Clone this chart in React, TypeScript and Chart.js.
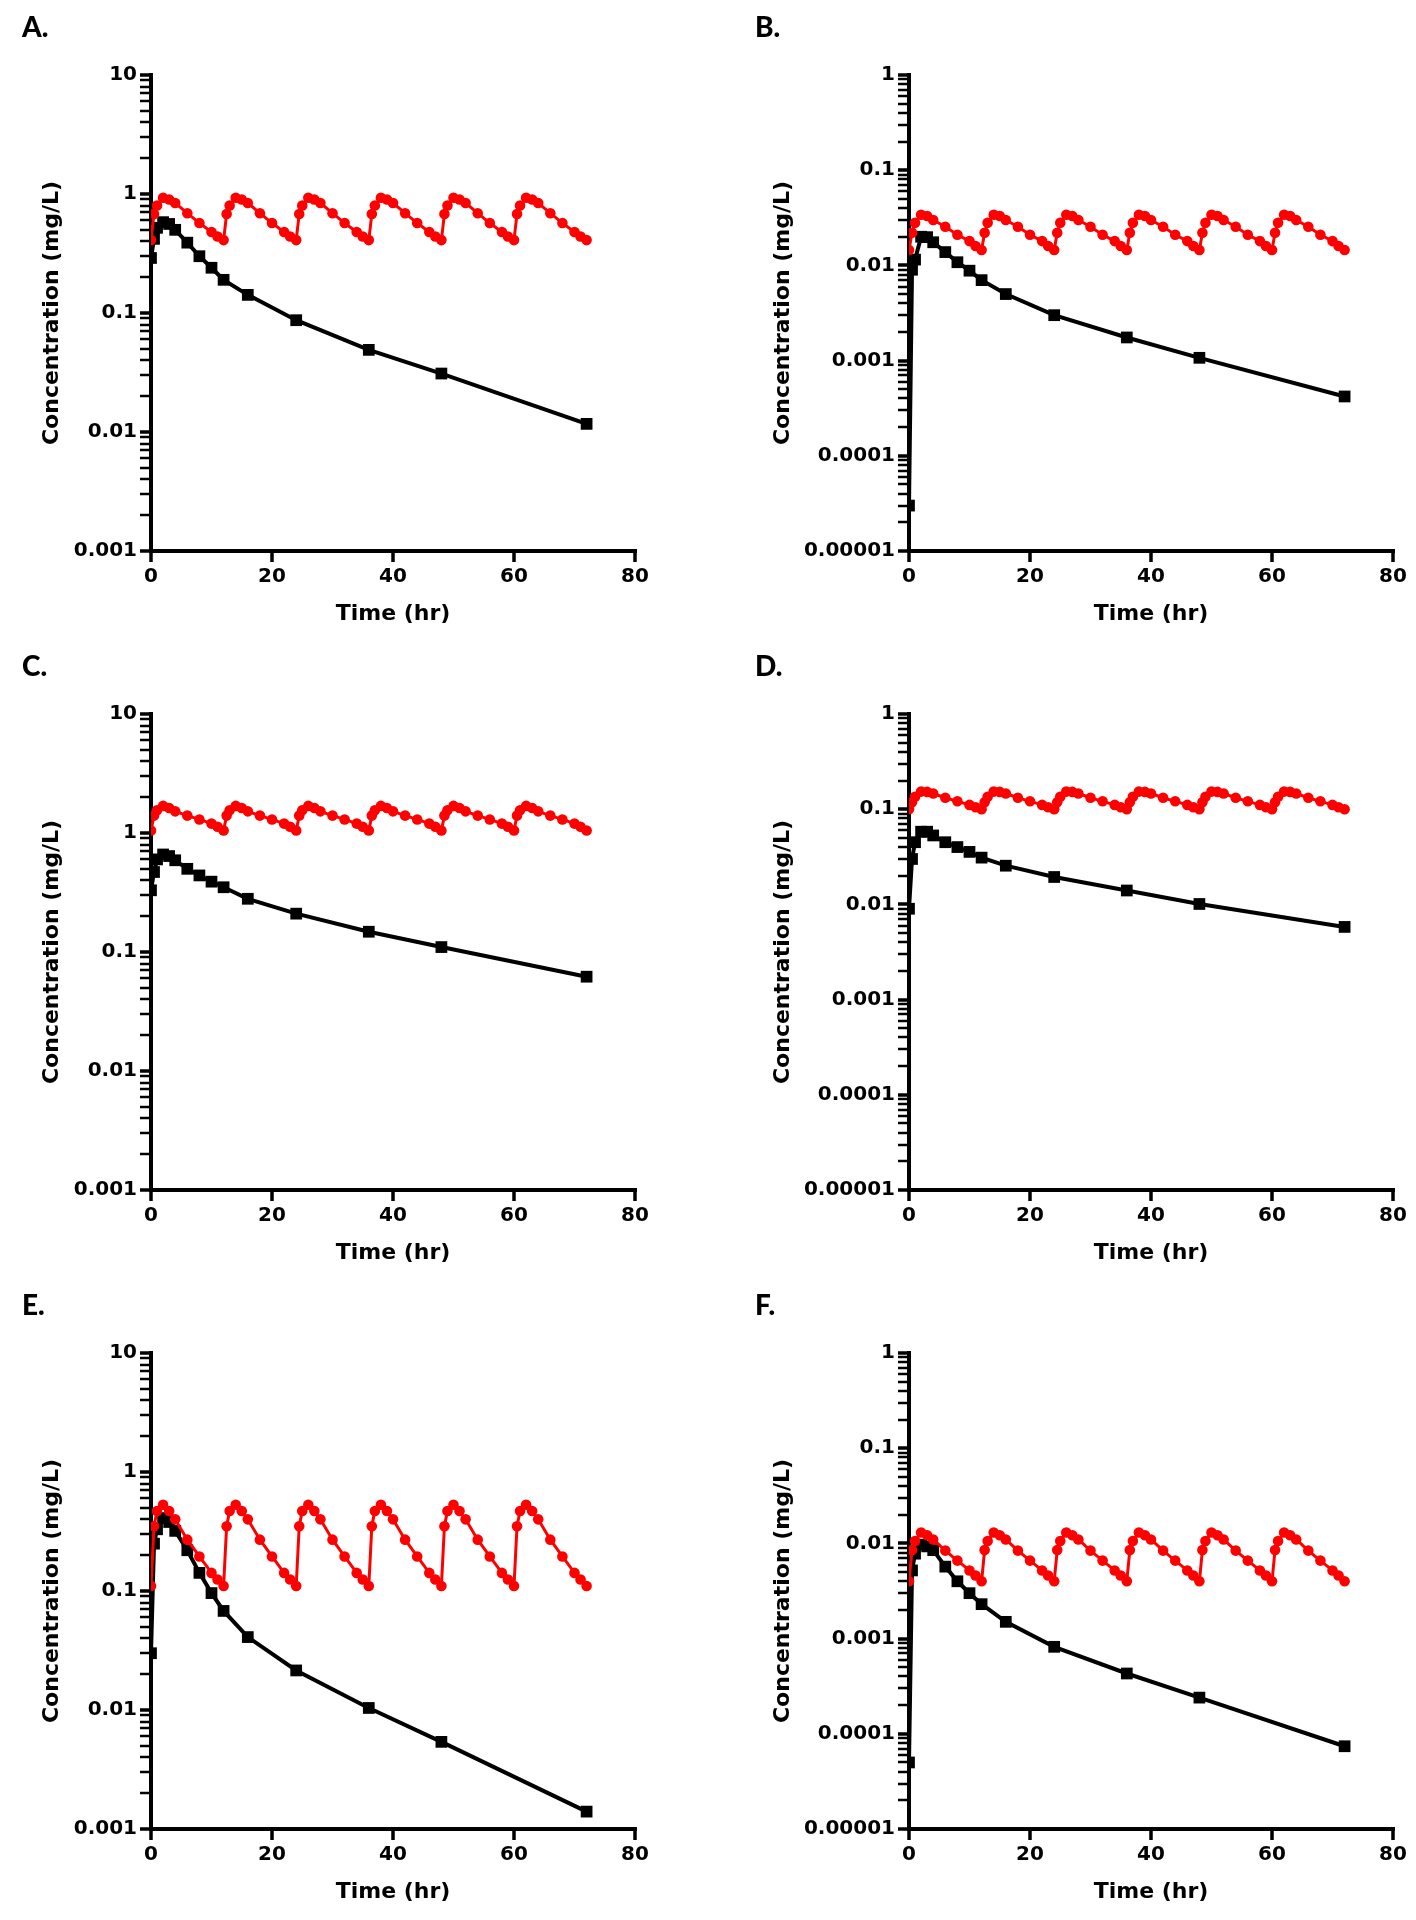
import React, { useEffect, useRef } from 'react';
import { Chart, registerables } from 'chart.js';

Chart.register(...registerables);

// ---------- data ----------
const redTime = [
  0, 0.5, 1, 2, 3, 4, 6, 8, 10, 11,
  12, 12.5, 13, 14, 15, 16, 18, 20, 22, 23,
  24, 24.5, 25, 26, 27, 28, 30, 32, 34, 35,
  36, 36.5, 37, 38, 39, 40, 42, 44, 46, 47,
  48, 48.5, 49, 50, 51, 52, 54, 56, 58, 59,
  60, 60.5, 61, 62, 63, 64, 66, 68, 70, 71,
  72,
];

const blackTime = [0, 0.5, 1, 2, 3, 4, 6, 8, 10, 12, 16, 24, 36, 48, 72];

const redA = [
  0.41, 0.68, 0.8, 0.93, 0.9, 0.84, 0.69, 0.57, 0.48, 0.44,
  0.41, 0.68, 0.8, 0.93, 0.9, 0.84, 0.69, 0.57, 0.48, 0.44,
  0.41, 0.68, 0.8, 0.93, 0.9, 0.84, 0.69, 0.57, 0.48, 0.44,
  0.41, 0.68, 0.8, 0.93, 0.9, 0.84, 0.69, 0.57, 0.48, 0.44,
  0.41, 0.68, 0.8, 0.93, 0.9, 0.84, 0.69, 0.57, 0.48, 0.44,
  0.41, 0.68, 0.8, 0.93, 0.9, 0.84, 0.69, 0.57, 0.48, 0.44,
  0.41,
];
const redB = [
  0.0145, 0.022, 0.028, 0.034, 0.033, 0.03, 0.0255, 0.021, 0.018, 0.016,
  0.0145, 0.022, 0.028, 0.034, 0.033, 0.03, 0.0255, 0.021, 0.018, 0.016,
  0.0145, 0.022, 0.028, 0.034, 0.033, 0.03, 0.0255, 0.021, 0.018, 0.016,
  0.0145, 0.022, 0.028, 0.034, 0.033, 0.03, 0.0255, 0.021, 0.018, 0.016,
  0.0145, 0.022, 0.028, 0.034, 0.033, 0.03, 0.0255, 0.021, 0.018, 0.016,
  0.0145, 0.022, 0.028, 0.034, 0.033, 0.03, 0.0255, 0.021, 0.018, 0.016,
  0.0145,
];
const redC = [
  1.05, 1.4, 1.55, 1.69, 1.62, 1.52, 1.4, 1.3, 1.2, 1.13,
  1.05, 1.4, 1.55, 1.69, 1.62, 1.52, 1.4, 1.3, 1.2, 1.13,
  1.05, 1.4, 1.55, 1.69, 1.62, 1.52, 1.4, 1.3, 1.2, 1.13,
  1.05, 1.4, 1.55, 1.69, 1.62, 1.52, 1.4, 1.3, 1.2, 1.13,
  1.05, 1.4, 1.55, 1.69, 1.62, 1.52, 1.4, 1.3, 1.2, 1.13,
  1.05, 1.4, 1.55, 1.69, 1.62, 1.52, 1.4, 1.3, 1.2, 1.13,
  1.05,
];
const redD = [
  0.1, 0.118, 0.135, 0.153, 0.152, 0.146, 0.132, 0.121, 0.111, 0.105,
  0.1, 0.118, 0.135, 0.153, 0.152, 0.146, 0.132, 0.121, 0.111, 0.105,
  0.1, 0.118, 0.135, 0.153, 0.152, 0.146, 0.132, 0.121, 0.111, 0.105,
  0.1, 0.118, 0.135, 0.153, 0.152, 0.146, 0.132, 0.121, 0.111, 0.105,
  0.1, 0.118, 0.135, 0.153, 0.152, 0.146, 0.132, 0.121, 0.111, 0.105,
  0.1, 0.118, 0.135, 0.153, 0.152, 0.146, 0.132, 0.121, 0.111, 0.105,
  0.1,
];
const redE = [
  0.11, 0.35, 0.47, 0.53, 0.47, 0.4, 0.27, 0.195, 0.142, 0.125,
  0.11, 0.35, 0.47, 0.53, 0.47, 0.4, 0.27, 0.195, 0.142, 0.125,
  0.11, 0.35, 0.47, 0.53, 0.47, 0.4, 0.27, 0.195, 0.142, 0.125,
  0.11, 0.35, 0.47, 0.53, 0.47, 0.4, 0.27, 0.195, 0.142, 0.125,
  0.11, 0.35, 0.47, 0.53, 0.47, 0.4, 0.27, 0.195, 0.142, 0.125,
  0.11, 0.35, 0.47, 0.53, 0.47, 0.4, 0.27, 0.195, 0.142, 0.125,
  0.11,
];
const redF = [
  0.004, 0.0085, 0.0106, 0.013, 0.0122, 0.011, 0.0084, 0.0066, 0.0052, 0.0046,
  0.004, 0.0085, 0.0106, 0.013, 0.0122, 0.011, 0.0084, 0.0066, 0.0052, 0.0046,
  0.004, 0.0085, 0.0106, 0.013, 0.0122, 0.011, 0.0084, 0.0066, 0.0052, 0.0046,
  0.004, 0.0085, 0.0106, 0.013, 0.0122, 0.011, 0.0084, 0.0066, 0.0052, 0.0046,
  0.004, 0.0085, 0.0106, 0.013, 0.0122, 0.011, 0.0084, 0.0066, 0.0052, 0.0046,
  0.004, 0.0085, 0.0106, 0.013, 0.0122, 0.011, 0.0084, 0.0066, 0.0052, 0.0046,
  0.004,
];

const blackA = [0.29, 0.42, 0.52, 0.58, 0.56, 0.5, 0.39, 0.3, 0.24, 0.19, 0.142, 0.087, 0.049, 0.031, 0.0117];
const blackB = [0.00003, 0.009, 0.0115, 0.02, 0.0198, 0.0175, 0.0138, 0.0108, 0.0088, 0.007, 0.005, 0.003, 0.00175, 0.00107, 0.00042];
const blackC = [0.33, 0.47, 0.6, 0.66, 0.64, 0.59, 0.5, 0.44, 0.39, 0.35, 0.28, 0.21, 0.148, 0.11, 0.062];
const blackD = [0.009, 0.03, 0.045, 0.058, 0.058, 0.053, 0.045, 0.04, 0.0356, 0.031, 0.0255, 0.0194, 0.014, 0.0101, 0.0058];
const blackE = [0.03, 0.25, 0.33, 0.41, 0.38, 0.32, 0.22, 0.142, 0.096, 0.068, 0.041, 0.0215, 0.0104, 0.0054, 0.0014];
const blackF = [0.00005, 0.0052, 0.0078, 0.0097, 0.0093, 0.0085, 0.0057, 0.004, 0.003, 0.0023, 0.0015, 0.00082, 0.00043, 0.00024, 0.000074];

const xTickValues = [0, 20, 40, 60, 80];
const yLabelsWide = ['0.001', '0.01', '0.1', '1', '10'];
const yLabelsNarrow = ['0.00001', '0.0001', '0.001', '0.01', '0.1', '1'];
const panelLetters = ['A.', 'B.', 'C.', 'D.', 'E.', 'F.'];
const xTitle = 'Time (hr)';
const yTitle = 'Concentration (mg/L)';

const RED = '#ff0000';
const BLACK = '#000000';

type PanelDef = {
  letter: string;
  red: number[];
  black: number[];
  yLabels: string[];
  col: number;
  row: number;
};

const panels: PanelDef[] = [
  { letter: panelLetters[0], red: redA, black: blackA, yLabels: yLabelsWide, col: 0, row: 0 },
  { letter: panelLetters[1], red: redB, black: blackB, yLabels: yLabelsNarrow, col: 1, row: 0 },
  { letter: panelLetters[2], red: redC, black: blackC, yLabels: yLabelsWide, col: 0, row: 1 },
  { letter: panelLetters[3], red: redD, black: blackD, yLabels: yLabelsNarrow, col: 1, row: 1 },
  { letter: panelLetters[4], red: redE, black: blackE, yLabels: yLabelsWide, col: 0, row: 2 },
  { letter: panelLetters[5], red: redF, black: blackF, yLabels: yLabelsNarrow, col: 1, row: 2 },
];

// ---------- layout ----------
const CELL_W = 708;
const CELL_H = 639;
const PLOT_TOP = 75;
const PLOT_BOTTOM = 551;
const X_TITLE_CENTER = 614;
const TITLE_SIZE = 22;
const TICK_SIZE = 20;
const FONT = 'DejaVu Sans';

const colGeom = [
  { plotLeft: 151, plotRight: 635, titleCenter: 52 },
  { plotLeft: 201, plotRight: 685, titleCenter: 75 },
];

function isDecade(v: number) {
  const l = Math.log10(v);
  return Math.abs(l - Math.round(l)) < 1e-7;
}

function PanelChart({ p }: { p: PanelDef }) {
  const ref = useRef<HTMLCanvasElement | null>(null);

  useEffect(() => {
    if (!ref.current) return;
    const g = colGeom[p.col];
    const titleLH = TITLE_SIZE * 1.2;
    const padLeft = g.titleCenter - titleLH / 2;
    const yW = g.plotLeft - padLeft;
    const padRight = CELL_W - g.plotRight;
    const xScaleBottom = X_TITLE_CENTER + titleLH / 2;
    const xH = xScaleBottom - PLOT_BOTTOM;
    const padBottom = CELL_H - xScaleBottom;

    const decades = p.yLabels.map((s) => parseFloat(s));
    const yTicks: number[] = [];
    decades.forEach((d, i) => {
      yTicks.push(d);
      if (i < decades.length - 1) {
        for (let k = 2; k <= 9; k++) yTicks.push(d * k);
      }
    });

    const chart = new Chart(ref.current, {
      type: 'line',
      data: {
        datasets: [
          {
            label: 'red',
            data: redTime.map((t, i) => ({ x: t, y: p.red[i] })),
            borderColor: RED,
            backgroundColor: RED,
            borderWidth: 3,
            pointRadius: 5.3,
            pointBorderWidth: 0,
            pointBackgroundColor: RED,
            pointStyle: 'circle',
            tension: 0,
            order: 0,
          },
          {
            label: 'black',
            data: blackTime.map((t, i) => ({ x: t, y: p.black[i] })),
            borderColor: BLACK,
            backgroundColor: BLACK,
            borderWidth: 4,
            pointRadius: 8.3,
            pointBorderWidth: 0,
            pointBackgroundColor: BLACK,
            pointStyle: 'rect',
            tension: 0,
            order: 1,
          },
        ],
      },
      options: {
        responsive: false,
        maintainAspectRatio: false,
        animation: false,
        events: [],
        layout: {
          padding: { left: padLeft, right: padRight, top: PLOT_TOP, bottom: padBottom },
        },
        plugins: {
          legend: { display: false },
          tooltip: { enabled: false },
          title: { display: false },
        },
        scales: {
          x: {
            type: 'linear',
            min: 0,
            max: 80,
            afterBuildTicks: (scale: any) => {
              scale.ticks = xTickValues.map((v) => ({ value: v }));
            },
            afterFit: (scale: any) => {
              scale.height = xH;
            },
            ticks: {
              autoSkip: false,
              maxRotation: 0,
              padding: 3,
              color: BLACK,
              font: { family: FONT, weight: 'bold', size: TICK_SIZE },
            },
            grid: {
              display: true,
              drawOnChartArea: false,
              drawTicks: true,
              tickLength: 11,
              tickWidth: 3.5,
              tickColor: BLACK,
              lineWidth: 4,
              color: BLACK,
            },
            border: { display: true, width: 4, color: BLACK },
            title: {
              display: true,
              text: xTitle,
              color: BLACK,
              padding: 0,
              font: { family: FONT, weight: 'bold', size: TITLE_SIZE, lineHeight: 1.2 },
            },
          },
          y: {
            type: 'logarithmic',
            min: decades[0],
            max: decades[decades.length - 1],
            afterBuildTicks: (scale: any) => {
              scale.ticks = yTicks.map((v) => ({ value: v, major: isDecade(v) }));
            },
            afterFit: (scale: any) => {
              scale.width = yW;
            },
            ticks: {
              autoSkip: false,
              padding: 3,
              color: BLACK,
              font: { family: FONT, weight: 'bold', size: TICK_SIZE },
              callback: (value: any) => {
                const v = Number(value);
                const i = decades.findIndex((d) => Math.abs(d - v) / d < 1e-7);
                return i >= 0 ? p.yLabels[i] : '';
              },
            },
            grid: {
              display: true,
              drawOnChartArea: false,
              drawTicks: true,
              tickLength: 11,
              tickWidth: (ctx: any) => (ctx.tick && isDecade(ctx.tick.value) ? 3.5 : 2.5),
              tickColor: BLACK,
              lineWidth: 4,
              color: BLACK,
            },
            border: { display: true, width: 4, color: BLACK },
            title: {
              display: true,
              text: yTitle,
              color: BLACK,
              padding: 0,
              font: { family: FONT, weight: 'bold', size: TITLE_SIZE, lineHeight: 1.2 },
            },
          },
        },
      } as any,
    });

    return () => chart.destroy();
  }, [p]);

  return (
    <>
      <canvas
        ref={ref}
        width={CELL_W}
        height={CELL_H}
        style={{
          position: 'absolute',
          left: p.col * CELL_W,
          top: p.row * CELL_H,
          width: CELL_W,
          height: CELL_H,
        }}
      />
      <div
        style={{
          position: 'absolute',
          left: p.col === 0 ? 22 : 755,
          top: p.row * CELL_H + 10,
          fontFamily: 'Lato, "Open Sans", sans-serif',
          fontWeight: 900,
          fontSize: 28,
          lineHeight: '32px',
          color: BLACK,
        }}
      >
        {p.letter}
      </div>
    </>
  );
}

export default function App() {
  return (
    <div
      style={{
        position: 'absolute',
        left: 0,
        top: 0,
        width: 1416,
        height: 1920,
        background: '#ffffff',
        overflow: 'hidden',
      }}
    >
      {panels.map((p) => (
        <PanelChart key={p.letter} p={p} />
      ))}
    </div>
  );
}
